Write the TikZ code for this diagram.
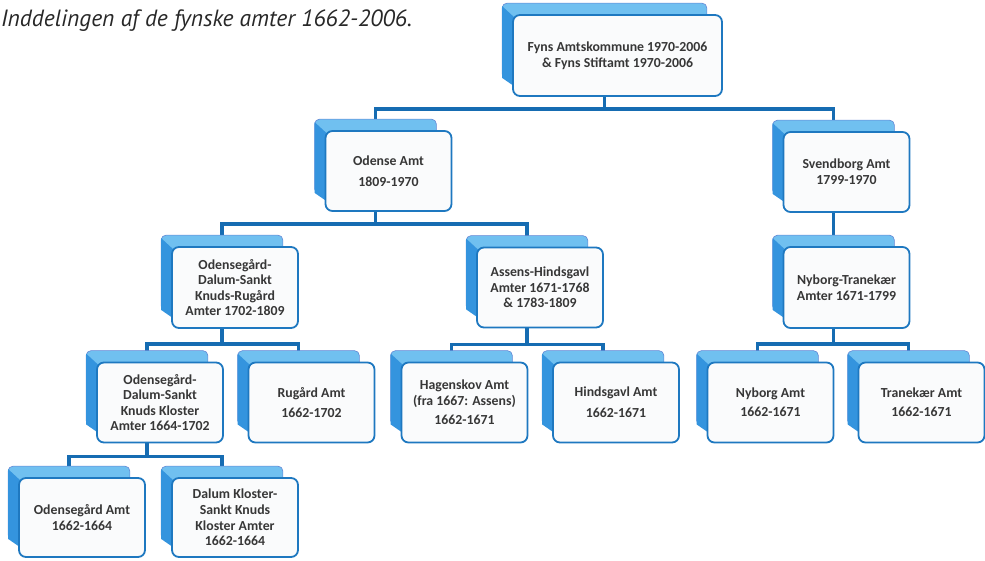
\documentclass[tikz,border=0pt]{standalone}
\usepackage{fontspec}
\setmainfont{Carlito}
\newfontfamily\titlefont{PT Sans}
\usetikzlibrary{calc,backgrounds}
\definecolor{connblue}{RGB}{22,108,178}
\definecolor{frontborder}{RGB}{30,120,192}
\definecolor{frontfill}{RGB}{250,251,252}
\definecolor{backtop}{RGB}{112,192,240}
\definecolor{backside}{RGB}{52,148,222}
\definecolor{backborder}{RGB}{100,135,212}
\definecolor{textgray}{RGB}{55,55,55}
\definecolor{titlegray}{RGB}{40,40,40}
\newcommand\mybackbox[1]{%
  \filldraw[fill=backtop, draw=backborder, line width=0.6pt, rounded corners=5pt]
    ($(#1.north west)+(-10,-11)$) rectangle ($(#1.south east)+(-16,-18)$);
  \fill[backside] ($(#1.north west)+(-10,-8)$) -- ($(#1.north west)+(3,4)$)
    -- ($(#1.south west)+(3,-10)$) -- ($(#1.south west)+(-10,-19)$) -- cycle;
}
\newcommand\myconn[3]{%
  \draw[conn] ($(#1.south)+(-13,0)$) -- ++(0,#3) -| ($(#2.north)+(-13,-11)$);
}
\begin{document}
\begin{tikzpicture}[x=1pt,y=-1pt,
  fbox/.style={draw=frontborder, line width=1.8pt, fill=frontfill, rounded corners=7pt,
    minimum width=126pt, minimum height=80pt, align=center, inner sep=2pt,
    text=textgray, font=\fontsize{13.8}{15.6}\selectfont\bfseries},
  conn/.style={draw=connblue, line width=3.3pt}]
\useasboundingbox (0,0) rectangle (985,561);
\node[anchor=base west, inner sep=0, text=titlegray,
  font=\titlefont\itshape\fontsize{23.5}{26}\selectfont] (title) at (1,27)
  {Inddelingen af de fynske amter 1662-2006.};

\node[fbox, minimum width=209pt, minimum height=81pt] (top) at (617.5,55.5)
  {Fyns Amtskommune 1970-2006\\\& Fyns Stiftamt 1970-2006};
\node[fbox] (odense) at (388.5,171) {Odense Amt\\[5pt]1809-1970};
\node[fbox] (svend) at (846.5,172) {Svendborg Amt\\1799-1970};
\node[fbox, minimum height=81pt] (odskr) at (235,287.5)
  {Odensegård-\\Dalum-Sankt\\Knuds-Rugård\\Amter 1702-1809};
\node[fbox] (assens) at (540,287.5) {Assens-Hindsgavl\\Amter 1671-1768\\\& 1783-1809};
\node[fbox, minimum height=81pt] (nt) at (846.5,287.5) {Nyborg-Tranekær\\Amter 1671-1799};
\node[fbox] (odskk) at (160,402.5)
  {Odensegård-\\Dalum-Sankt\\Knuds Kloster\\Amter 1664-1702};
\node[fbox] (rugaard) at (311.5,402.5) {Rugård Amt\\[5pt]1662-1702};
\node[fbox] (hagen) at (464.5,402.5) {Hagenskov Amt\\(fra 1667: Assens)\\[4pt]1662-1671};
\node[fbox] (hinds) at (616,402.5) {Hindsgavl Amt\\[5pt]1662-1671};
\node[fbox] (nyborg) at (770.5,402.5) {Nyborg Amt\\[3pt]1662-1671};
\node[fbox] (trane) at (921.5,402.5) {Tranekær Amt\\[3pt]1662-1671};
\node[fbox, minimum height=79pt] (odg) at (82,517.5) {Odensegård Amt\\1662-1664};
\node[fbox, minimum height=79pt] (dalum) at (235,517.5)
  {Dalum Kloster-\\Sankt Knuds\\Kloster Amter\\1662-1664};

\begin{scope}[on background layer]
  \myconn{top}{odense}{12}
  \myconn{top}{svend}{12}
  \myconn{odense}{odskr}{12}
  \myconn{odense}{assens}{12}
  \myconn{svend}{nt}{12}
  \myconn{odskr}{odskk}{15}
  \myconn{odskr}{rugaard}{15}
  \myconn{assens}{hagen}{16}
  \myconn{assens}{hinds}{16}
  \myconn{nt}{nyborg}{15}
  \myconn{nt}{trane}{15}
  \myconn{odskk}{odg}{13}
  \myconn{odskk}{dalum}{13}
  \foreach \n in {top,odense,svend,odskr,assens,nt,odskk,rugaard,hagen,hinds,nyborg,trane,odg,dalum}
    {\mybackbox{\n}}
\end{scope}
\end{tikzpicture}
\end{document}
